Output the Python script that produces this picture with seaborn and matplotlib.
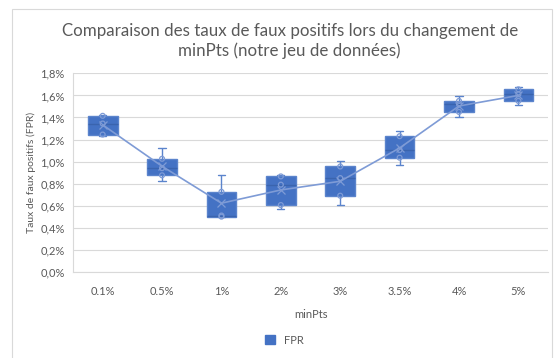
import numpy as np
import pandas as pd
import matplotlib
matplotlib.use("Agg")
import matplotlib.pyplot as plt
from matplotlib.patches import Patch, Rectangle
from matplotlib.ticker import FuncFormatter
import seaborn as sns

# minPts settings and the FPR observed for each run (in %)
categories = ["0.1%", "0.5%", "1%", "2%", "3%", "3.5%", "4%", "5%"]
fpr_01 = [1.235, 1.245, 1.345, 1.415, 1.425]
fpr_05 = [0.825, 0.875, 0.94, 1.025, 1.12]
fpr_1 = [0.495, 0.50, 0.51, 0.725, 0.88]
fpr_2 = [0.57, 0.605, 0.79, 0.865, 0.88]
fpr_3 = [0.605, 0.69, 0.85, 0.955, 1.005]
fpr_35 = [0.97, 1.035, 1.105, 1.23, 1.275]
fpr_4 = [1.405, 1.45, 1.52, 1.55, 1.595]
fpr_5 = [1.51, 1.55, 1.61, 1.655, 1.675]
y_ticks = [0.0, 0.2, 0.4, 0.6, 0.8, 1.0, 1.2, 1.4, 1.6, 1.8]

series = [fpr_01, fpr_05, fpr_1, fpr_2, fpr_3, fpr_35, fpr_4, fpr_5]
df = pd.DataFrame(
    [(c, v) for c, vals in zip(categories, series) for v in vals],
    columns=["minPts", "FPR"],
)
# inner points: everything strictly between the whisker ends
grp = df.groupby("minPts")["FPR"]
inner = df[(df["FPR"] > grp.transform("min")) & (df["FPR"] < grp.transform("max"))]

sns.set_theme(style="white")
plt.rcParams["font.family"] = ["Lato", "DejaVu Sans"]

BLUE = "#4472C4"
EDGE = "#5B84CC"
LIGHT = "#7E9BD6"
TXT = "#595959"

fig = plt.figure(figsize=(5.57, 3.58), dpi=100)
ax = fig.add_axes([0.131, 0.241, 0.853, 0.554])

sns.boxplot(
    data=df, x="minPts", y="FPR", order=categories, whis=(0, 100),
    width=0.5, color=BLUE, saturation=1, ax=ax, zorder=3,
    boxprops=dict(facecolor=BLUE, edgecolor=EDGE, linewidth=1),
    whiskerprops=dict(color=EDGE, linewidth=1),
    capprops=dict(color=EDGE, linewidth=1),
    medianprops=dict(color="#3A64AE", linewidth=1),
    capwidths=0.12,
)
sns.stripplot(
    data=inner, x="minPts", y="FPR", order=categories, jitter=False,
    marker="o", size=3.5, color=LIGHT, ax=ax, zorder=4,
)
for coll in ax.collections:
    coll.set_facecolor("none")
    coll.set_edgecolor(LIGHT)
    coll.set_linewidth(0.9)
sns.pointplot(
    data=df, x="minPts", y="FPR", order=categories, estimator="mean",
    errorbar=None, color=LIGHT, markers="x", markersize=6,
    linewidth=1.2, ax=ax, zorder=5,
)

ax.set_ylim(0, 1.8)
ax.set_yticks(y_ticks)
ax.yaxis.set_major_formatter(
    FuncFormatter(lambda v, _: f"{v:.1f}%".replace(".", ","))
)
ax.set_xlim(-0.5, len(categories) - 0.5)
ax.grid(axis="y", color="#D9D9D9", linewidth=0.8, zorder=0)
ax.set_axisbelow(True)
for side in ["top", "right"]:
    ax.spines[side].set_visible(False)
for side in ["left", "bottom"]:
    ax.spines[side].set_color("#D9D9D9")
    ax.spines[side].set_linewidth(0.8)
ax.tick_params(axis="both", length=0, labelsize=8, labelcolor=TXT, pad=6)
ax.tick_params(axis="x", pad=10)

ax.set_xlabel("minPts", fontsize=8, color=TXT, labelpad=9)
ax.set_ylabel("Taux de faux positifs (FPR)", fontsize=7.5, color=TXT, labelpad=3)

fig.text(
    0.52, 0.885,
    "Comparaison des taux de faux positifs lors du changement de\nminPts (notre jeu de données)",
    ha="center", va="center", fontsize=12.2, color=TXT, linespacing=1.3,
)

fig.legend(
    handles=[Patch(facecolor=BLUE, edgecolor=BLUE, label="FPR")],
    loc="center", bbox_to_anchor=(0.51, 0.05), frameon=False,
    fontsize=8, handlelength=0.9, handleheight=0.9, labelcolor=TXT,
)

# chart frame
fig.patches.append(Rectangle(
    (12 / 557, -0.05), 540 / 557, 1 - 9 / 358 + 0.05,
    transform=fig.transFigure, fill=False, edgecolor="#D9D9D9",
    linewidth=0.8,
))

fig.savefig("out.png", dpi=100)
